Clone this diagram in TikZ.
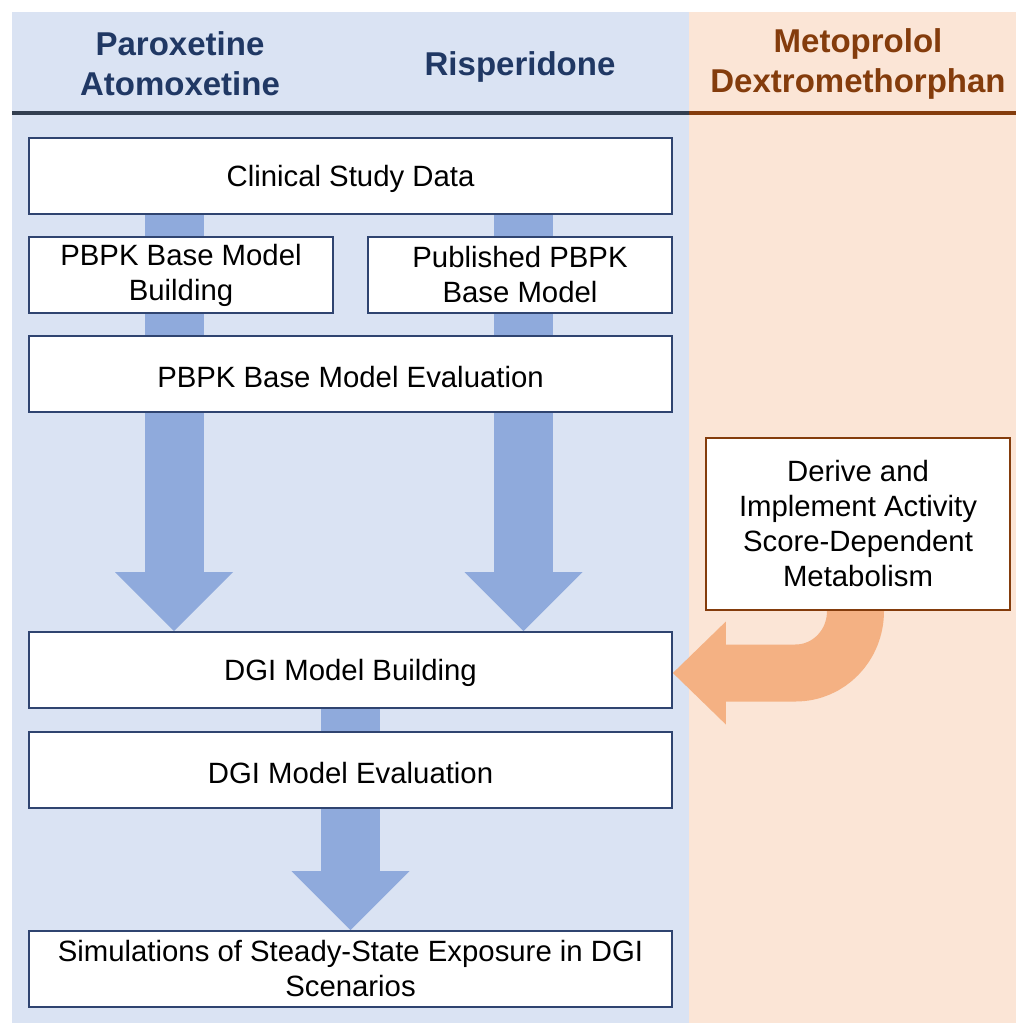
\documentclass[tikz,border=0pt]{standalone}
\usepackage{fontspec}
\setmainfont{Liberation Sans}
\usetikzlibrary{arrows.meta}
\definecolor{bluepanel}{HTML}{DAE3F3}
\definecolor{orangepanel}{HTML}{FBE5D6}
\definecolor{bluearrow}{HTML}{8FAADC}
\definecolor{orangearrow}{HTML}{F4B183}
\definecolor{navy}{HTML}{203864}
\definecolor{navyline}{HTML}{333F50}
\definecolor{brown}{HTML}{843C0C}
\definecolor{boxline}{HTML}{2F4470}
\pgfdeclarelayer{back}
\pgfdeclarelayer{mid}
\pgfsetlayers{back,mid,main}
\tikzset{
  box/.style={draw=boxline, line width=1.3pt, fill=white, inner sep=0pt, align=center,
    font=\fontsize{22}{26.25}\selectfont,
    execute at begin node={\rule{0pt}{20.5pt}}},
  widebox/.style={box, minimum width=482.25pt, minimum height=57pt},
  halfbox/.style={box, minimum width=228pt, minimum height=57pt},
  head/.style={font=\fontsize{24.75}{30}\selectfont\bfseries, align=center,
    execute at begin node={\rule{0pt}{23pt}}},
  shaft/.style={draw=bluearrow, line width=44.25pt},
  barrow/.style={shaft, -{Triangle[length=44.25pt, width=88.5pt, line width=0pt]}},
  oarrow/.style={draw=orangearrow, line width=42.75pt,
    -{Triangle[length=39.75pt, width=77.25pt, line width=0pt]}},
}
\begin{document}
\begin{tikzpicture}[x=0.75pt, y=-0.75pt]
\useasboundingbox (0,0) rectangle (1016,1023);
\begin{pgfonlayer}{back}
  \fill[white] (0,0) rectangle (1016,1023);
  \fill[bluepanel] (12,12) rectangle (689,1023);
  \fill[orangepanel] (689,12) rectangle (1016,1023);
  \fill[navyline] (12,111) rectangle (689,115.5);
  \fill[brown] (689,111) rectangle (1016,115.5);
\end{pgfonlayer}

% headers
\node[head, text=navy] (h1) at (180,64) {Paroxetine\\Atomoxetine};
\node[head, text=navy] (h2) at (520,64) {Risperidone};
\node[head, text=brown] (h3) at (858,64) {Metoprolol\\Dextromethorphan};

% boxes
\node[widebox] (clin) at (350.5,176) {Clinical Study Data};
\node[halfbox] (pbb) at (181,275) {PBPK Base Model\\Building};
\node[halfbox] (pub) at (520,275) {Published PBPK\\Base Model};
\node[widebox] (pbe) at (350.5,374) {PBPK Base Model Evaluation};
\node[box, draw=brown, minimum width=228pt, minimum height=129pt] (der) at (858,524)
  {Derive and\\Implement Activity\\Score-Dependent\\Metabolism};
\node[widebox] (dgib) at (350.5,670) {DGI Model Building};
\node[widebox] (dgie) at (350.5,770) {DGI Model Evaluation};
\node[widebox] (sim) at (350.5,969) {Simulations of Steady-State Exposure in DGI\\Scenarios};

% arrows
\coordinate (lx) at (174,0);
\coordinate (rx) at (523.5,0);
\coordinate (ox) at (855.5,0);
\coordinate (bend) at (795.5,673);
\begin{pgfonlayer}{mid}
  \draw[barrow] (clin.south -| lx) -- (dgib.north -| lx);
  \draw[barrow] (clin.south -| rx) -- (dgib.north -| rx);
  \draw[shaft] (dgib.south) -- (dgie.north);
  \draw[barrow] (dgie.south) -- (sim.north);
  \draw[oarrow] ([yshift=3pt]der.south -| ox) -- (der.south -| ox)
     .. controls +(0,35) and +(33,0) .. (bend) -- ([yshift=-2.25pt]dgib.east);
\end{pgfonlayer}
\end{tikzpicture}
\end{document}
